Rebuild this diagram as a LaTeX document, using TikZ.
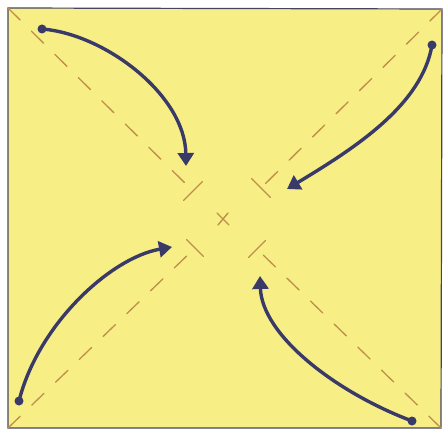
\documentclass[tikz,border=0pt]{standalone}
\usetikzlibrary{arrows.meta}
\definecolor{paper}{HTML}{F7EE86}
\definecolor{edge}{HTML}{454563}
\definecolor{fold}{HTML}{C08E48}
\definecolor{ink}{HTML}{3A3A68}
\tikzset{
  foldline/.style={fold, line width=1.3pt, dash pattern=on 17pt off 16pt, line cap=round},
  tbar/.style={fold, line width=1.4pt, line cap=round},
  move/.style={ink, line width=3.4pt, -{Triangle[length=13pt,width=16pt]}},
  startdot/.style={ink, fill=ink},
}
\begin{document}
\begin{tikzpicture}[x=1pt,y=-1pt]
\useasboundingbox (0,0) rectangle (444,433);
% paper
\coordinate (c1) at (8,8);
\coordinate (c2) at (442,9);
\coordinate (c3) at (441,428);
\coordinate (c4) at (8,428);
\filldraw[fill=paper, draw=edge, line width=1.2pt] (c1) -- (c2) -- (c3) -- (c4) -- cycle;
% T ends
\coordinate (t1) at (193,191);
\coordinate (t2) at (261,188);
\coordinate (t3) at (195,248);
\coordinate (t4) at (257,249);
\draw[foldline] (c1) -- (t1);
\draw[foldline] (c2) -- (t2);
\draw[foldline] (c4) -- (t3);
\draw[foldline] (c3) -- (t4);
\draw[tbar] ([shift={(-9.5,9.5)}]t1) -- ([shift={(9.5,-9.5)}]t1);
\draw[tbar] ([shift={(-9.5,-9.5)}]t2) -- ([shift={(9.5,9.5)}]t2);
\draw[tbar] ([shift={(-8.5,-8.5)}]t3) -- ([shift={(8.5,8.5)}]t3);
\draw[tbar] ([shift={(-8.5,8.5)}]t4) -- ([shift={(8.5,-8.5)}]t4);
% centre mark
\coordinate (ctr) at (223,219);
\draw[tbar] ([shift={(-6,-6)}]ctr) -- ([shift={(6,6)}]ctr);
\draw[tbar] ([shift={(-5,6)}]ctr) -- ([shift={(5,-6)}]ctr);
% arrows
\coordinate (s1) at (42,29);   \coordinate (e1) at (186,166);
\coordinate (s2) at (432,45);  \coordinate (e2) at (287,189);
\coordinate (s3) at (19,401);  \coordinate (e3) at (172,247);
\coordinate (s4) at (412,421); \coordinate (e4) at (260,276);
\fill[startdot] (s1) circle (4.5pt);
\fill[startdot] (s2) circle (4.5pt);
\fill[startdot] (s3) circle (4.5pt);
\fill[startdot] (s4) circle (4.5pt);
\draw[move] (s1) .. controls (105,34) and (185,95) .. (e1);
\draw[move] (s2) .. controls (422,105) and (355,148) .. (e2);
\draw[move] (s3) .. controls (38,325) and (110,258) .. (e3);
\draw[move] (s4) .. controls (335,392) and (262,335) .. (e4);
\end{tikzpicture}
\end{document}
